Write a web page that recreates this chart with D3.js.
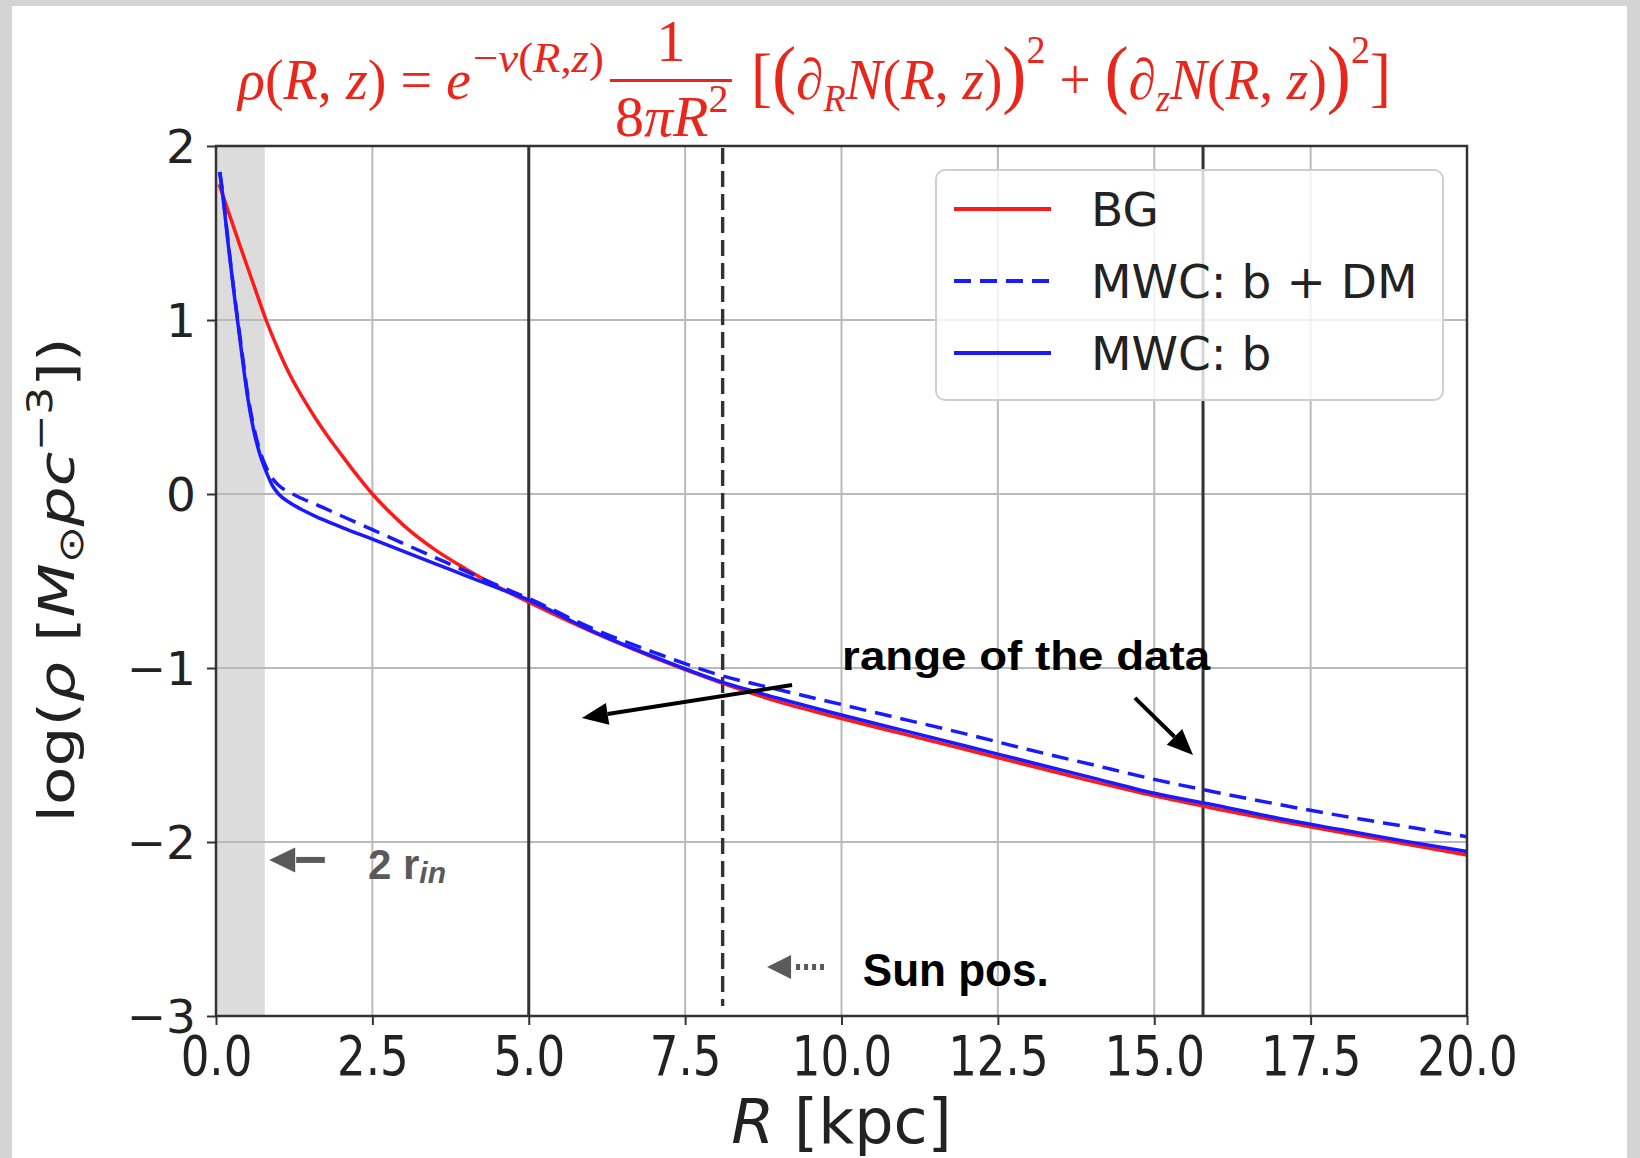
<!DOCTYPE html>
<html lang="en">
<head>
<meta charset="UTF-8">
<title>log rho vs R</title>
<script src="https://d3js.org/d3.v7.min.js"></script>
<style>
  body { margin: 0; background: #d4d4d4; }
</style>
</head>
<body>
<div id="my_chart"></div>
<script>
// BG model
const rBG = [0.05, 0.2, 0.4, 0.6, 0.8, 1.0, 1.2, 1.4, 1.6, 1.8, 2.0, 2.25, 2.5, 2.75, 3.0, 3.5, 4.0, 4.5, 5.0,
             6, 7, 8, 9, 10, 11, 12, 13, 14, 15, 16, 17, 18, 19, 20];
const logRhoBG = [1.78, 1.62, 1.41, 1.205, 1.0, 0.825, 0.672, 0.545, 0.43, 0.325, 0.228, 0.11, 0.0, -0.095, -0.18, -0.32, -0.432, -0.532, -0.622,
                  -0.79, -0.94, -1.075, -1.195, -1.29, -1.38, -1.47, -1.56, -1.65, -1.735, -1.81, -1.88, -1.945, -2.01, -2.075];

// MWC models
const rMWC = [0.06, 0.1, 0.2, 0.3, 0.4, 0.5, 0.6, 0.7, 0.8, 0.9, 1.0, 1.2, 1.4, 1.6, 2.0, 2.5, 3.0, 3.5, 4.0, 4.5, 5.0,
              6, 7, 8, 9, 10, 11, 12, 13, 14, 15, 16, 17, 18, 19, 20];
const logRhoMWCbDM = [1.85, 1.75, 1.43, 1.13, 0.86, 0.59, 0.39, 0.25, 0.155, 0.09, 0.05, 0.005, -0.03, -0.06, -0.125, -0.205, -0.285, -0.365, -0.445, -0.525, -0.60,
                      -0.77, -0.91, -1.035, -1.125, -1.21, -1.295, -1.38, -1.47, -1.555, -1.64, -1.715, -1.785, -1.85, -1.91, -1.97];
const logRhoMWCb = [1.85, 1.74, 1.42, 1.12, 0.84, 0.57, 0.37, 0.23, 0.13, 0.05, 0.0, -0.055, -0.095, -0.13, -0.19, -0.26, -0.33, -0.40, -0.47, -0.54, -0.61,
                    -0.785, -0.935, -1.07, -1.175, -1.27, -1.36, -1.45, -1.54, -1.63, -1.72, -1.79, -1.865, -1.93, -1.995, -2.055];

const xTicks = [0, 2.5, 5, 7.5, 10, 12.5, 15, 17.5, 20];
const yTicks = [2, 1, 0, -1, -2, -3];

const rInner2 = 0.78;     // 2 r_in
const rDataMin = 5.0;
const rDataMax = 15.78;
const rSun = 8.1;

const red = '#ff1a1a', blue = '#1a1aff', dark = '#333333', annGray = '#5a5a5a';

const margin = {top: 146, right: 173, bottom: 142, left: 216},
    width = 1640 - margin.left - margin.right,
    height = 1158 - margin.top - margin.bottom;

const svg = d3.select('#my_chart')
    .append('svg')
        .attr('width', 1640)
        .attr('height', 1158);

// frame
svg.append('rect').attr('width', 1640).attr('height', 1158).attr('fill', '#d4d4d4');
svg.append('rect').attr('x', 12).attr('y', 6).attr('width', 1615).attr('height', 1152).attr('fill', '#fff');

const g = svg.append('g')
    .attr('transform', `translate(${margin.left}, ${margin.top})`);

const x = d3.scaleLinear().domain([0, 20]).range([0, width]);
const y = d3.scaleLinear().domain([-3, 2]).range([height, 0]);

// shaded inner region
g.append('rect')
    .attr('x', x(0)).attr('y', 0)
    .attr('width', x(rInner2) - x(0)).attr('height', height)
    .attr('fill', '#dcdcdc');

// grid
g.selectAll('.gx').data(xTicks).join('line')
    .attr('x1', d => x(d)).attr('x2', d => x(d))
    .attr('y1', 0).attr('y2', height)
    .attr('stroke', '#bababa').attr('stroke-width', 2);
g.selectAll('.gy').data(yTicks).join('line')
    .attr('x1', 0).attr('x2', width)
    .attr('y1', d => y(d)).attr('y2', d => y(d))
    .attr('stroke', '#bababa').attr('stroke-width', 2);

// vertical markers
[rDataMin, rDataMax].forEach(r => {
    g.append('line')
        .attr('x1', x(r)).attr('x2', x(r)).attr('y1', 0).attr('y2', height)
        .attr('stroke', dark).attr('stroke-width', 3);
});
g.append('line')
    .attr('x1', x(rSun)).attr('x2', x(rSun)).attr('y1', 2).attr('y2', height - 10)
    .attr('stroke', dark).attr('stroke-width', 3.4)
    .attr('stroke-dasharray', '16,7');

// curves
const line = d3.line().x(d => x(d[0])).y(d => y(d[1])).curve(d3.curveMonotoneX);

g.append('path')
    .datum(rBG.map((r, i) => [r, logRhoBG[i]]))
    .attr('d', line).attr('fill', 'none')
    .attr('stroke', red).attr('stroke-width', 3.5);
g.append('path')
    .datum(rMWC.map((r, i) => [r, logRhoMWCbDM[i]]))
    .attr('d', line).attr('fill', 'none')
    .attr('stroke', blue).attr('stroke-width', 3.5)
    .attr('stroke-dasharray', '17,9');
g.append('path')
    .datum(rMWC.map((r, i) => [r, logRhoMWCb[i]]))
    .attr('d', line).attr('fill', 'none')
    .attr('stroke', blue).attr('stroke-width', 3.5);

// axes
const gx = g.append('g')
    .attr('transform', `translate(0, ${height})`)
    .call(d3.axisBottom(x).tickValues(xTicks).tickFormat(d3.format('.1f')).tickSize(9));
gx.select('.domain').remove();
gx.selectAll('line').attr('stroke', dark).attr('stroke-width', 2);
gx.selectAll('text')
    .attr('y', 59).attr('dy', 0)
    .attr('transform', 'scale(0.82,1)')
    .attr('fill', '#222')
    .style('font-family', '"DejaVu Sans", sans-serif')
    .style('font-size', '55px');

const gy = g.append('g')
    .call(d3.axisLeft(y).tickValues(yTicks).tickFormat(d => d < 0 ? '\u2212' + Math.abs(d) : d).tickSize(9));
gy.select('.domain').remove();
gy.selectAll('line').attr('stroke', dark).attr('stroke-width', 2);
gy.selectAll('text')
    .attr('x', -20).attr('dy', '0.36em')
    .attr('fill', '#222')
    .style('font-family', '"DejaVu Sans", sans-serif')
    .style('font-size', '47px');

// spines
g.append('rect')
    .attr('width', width).attr('height', height)
    .attr('fill', 'none').attr('stroke', dark).attr('stroke-width', 2.5);

// axis labels
const xl = svg.append('text')
    .attr('x', margin.left + width / 2).attr('y', 1143)
    .attr('text-anchor', 'middle')
    .attr('fill', '#222')
    .style('font-family', '"DejaVu Sans", sans-serif')
    .style('font-size', '62px');
xl.append('tspan').attr('font-style', 'italic').text('R');
xl.append('tspan').text(' [kpc]');

const yl = svg.append('text')
    .attr('transform', 'translate(74, 580) rotate(-90)')
    .attr('text-anchor', 'middle')
    .attr('fill', '#222')
    .attr('textLength', 485).attr('lengthAdjust', 'spacingAndGlyphs')
    .style('font-family', '"DejaVu Sans", sans-serif')
    .style('font-size', '50px');
yl.append('tspan').text('log(');
yl.append('tspan').attr('font-style', 'italic').text('ρ');
yl.append('tspan').text(' [');
yl.append('tspan').attr('font-style', 'italic').text('M');
yl.append('tspan').attr('font-size', 35).attr('dy', 9).text('⊙');
yl.append('tspan').attr('font-style', 'italic').attr('dy', -9).text('pc');
yl.append('tspan').attr('font-size', 35).attr('dy', -22).text('\u22123');
yl.append('tspan').attr('dy', 22).text('])');

// legend
const legendItems = ['BG', 'MWC: b + DM', 'MWC: b'];
const legendStyle = [{c: red, dash: null}, {c: blue, dash: '17,9'}, {c: blue, dash: null}];
const lg = g.append('g').attr('transform', 'translate(720, 24)');
lg.append('rect')
    .attr('width', 507).attr('height', 230).attr('rx', 9)
    .attr('fill', '#fff').attr('fill-opacity', 0.8)
    .attr('stroke', '#cfcfcf').attr('stroke-width', 2);
legendItems.forEach((name, i) => {
    const yy = 39 + i * 72;
    lg.append('line')
        .attr('x1', 18).attr('x2', 115).attr('y1', yy).attr('y2', yy)
        .attr('stroke', legendStyle[i].c).attr('stroke-width', 4)
        .attr('stroke-dasharray', legendStyle[i].dash);
    lg.append('text')
        .attr('x', 155).attr('y', yy + 17)
        .attr('fill', '#222')
        .style('font-family', '"DejaVu Sans", sans-serif')
        .style('font-size', '47px')
        .text(name);
});

// annotations
function arrowHead(sel, tip, from, len, wid, color) {
    const dx = tip[0] - from[0], dy = tip[1] - from[1];
    const L = Math.hypot(dx, dy), ux = dx / L, uy = dy / L;
    const bx = tip[0] - ux * len, by = tip[1] - uy * len;
    const px = -uy * wid / 2, py = ux * wid / 2;
    sel.append('polygon')
        .attr('points', `${tip[0]},${tip[1]} ${bx + px},${by + py} ${bx - px},${by - py}`)
        .attr('fill', color);
    return [bx, by];
}

const a1from = [x(9.21), y(-1.098)], a1tip = [x(5.85), y(-1.287)];
const a1base = arrowHead(g, a1tip, a1from, 26, 22, '#000');
g.append('line').attr('x1', a1from[0]).attr('y1', a1from[1]).attr('x2', a1base[0]).attr('y2', a1base[1])
    .attr('stroke', '#000').attr('stroke-width', 4);

const a2from = [x(14.69), y(-1.172)], a2tip = [x(15.62), y(-1.50)];
const a2base = arrowHead(g, a2tip, a2from, 26, 22, '#000');
g.append('line').attr('x1', a2from[0]).attr('y1', a2from[1]).attr('x2', a2base[0]).attr('y2', a2base[1])
    .attr('stroke', '#000').attr('stroke-width', 4);

g.append('text')
    .attr('x', x(10.01)).attr('y', y(-1.011))
    .attr('textLength', 368).attr('lengthAdjust', 'spacingAndGlyphs')
    .attr('fill', '#000')
    .style('font-family', '"Liberation Sans", Arial, sans-serif')
    .style('font-weight', 'bold')
    .style('font-size', '41px')
    .text('range of the data');

// 2 r_in
const rfrom = [x(1.74), y(-2.103)], rtip = [x(0.85), y(-2.103)];
const rbase = arrowHead(g, rtip, rfrom, 26, 25, annGray);
g.append('line').attr('x1', rfrom[0]).attr('y1', rfrom[1]).attr('x2', rbase[0] + 1).attr('y2', rbase[1])
    .attr('stroke', annGray).attr('stroke-width', 6);
const rt = g.append('text')
    .attr('x', x(2.43)).attr('y', y(-2.213))
    .attr('fill', annGray)
    .style('font-family', '"Liberation Sans", Arial, sans-serif')
    .style('font-weight', 'bold')
    .style('font-size', '42px');
rt.append('tspan').text('2 r');
rt.append('tspan').attr('font-style', 'italic').attr('font-size', 30).attr('dy', 4).text('in');

// Sun pos.
const sfrom = [x(9.72), y(-2.718)], stip = [x(8.81), y(-2.718)];
const sbase = arrowHead(g, stip, sfrom, 24, 24, annGray);
g.append('line').attr('x1', sbase[0] + 5).attr('y1', sfrom[1]).attr('x2', sfrom[0]).attr('y2', sfrom[1])
    .attr('stroke', annGray).attr('stroke-width', 6).attr('stroke-dasharray', '4,4');
g.append('text')
    .attr('x', x(10.34)).attr('y', y(-2.828))
    .attr('textLength', 186).attr('lengthAdjust', 'spacingAndGlyphs')
    .attr('fill', '#000')
    .style('font-family', '"Liberation Sans", Arial, sans-serif')
    .style('font-weight', 'bold')
    .style('font-size', '46px')
    .text('Sun pos.');

// formula title
const fRed = '#e8261c';
const ff = svg.append('g').attr('fill', fRed)
    .style('font-family', '"Liberation Serif", "DejaVu Serif", serif');
function runs(t, list) {
    list.forEach(r => {
        const s = t.append('tspan').text(r.t);
        if (r.i) s.attr('font-style', 'italic');
        if (r.s) s.attr('font-size', r.s);
        if (r.dy) s.attr('dy', r.dy);
    });
    return t;
}
const p1 = ff.append('text').attr('x', 238).attr('y', 99).attr('font-size', 58)
    .attr('textLength', 233).attr('lengthAdjust', 'spacingAndGlyphs');
runs(p1, [{t: 'ρ', i: 1}, {t: '('}, {t: 'R', i: 1}, {t: ', '}, {t: 'z', i: 1}, {t: ')'}, {t: ' = '}, {t: 'e', i: 1}]);

const p2 = ff.append('text').attr('x', 473).attr('y', 72).attr('font-size', 42)
    .attr('textLength', 131).attr('lengthAdjust', 'spacingAndGlyphs');
runs(p2, [{t: '\u2212'}, {t: 'ν', i: 1}, {t: '('}, {t: 'R', i: 1}, {t: ','}, {t: 'z', i: 1}, {t: ')'}]);

ff.append('text').attr('x', 671).attr('y', 61).attr('font-size', 59)
    .attr('text-anchor', 'middle').text('1');
ff.append('line').attr('x1', 610).attr('x2', 732).attr('y1', 80.5).attr('y2', 80.5)
    .attr('stroke', fRed).attr('stroke-width', 3);
const p3 = ff.append('text').attr('x', 615).attr('y', 136).attr('font-size', 58);
runs(p3, [{t: '8'}, {t: 'π', i: 1}, {t: 'R', i: 1}, {t: '2', s: 40, dy: -24}]);

const p4 = ff.append('text').attr('x', 751).attr('y', 99).attr('font-size', 58)
    .attr('textLength', 640).attr('lengthAdjust', 'spacingAndGlyphs');
runs(p4, [
    {t: '[', s: 66},
    {t: '(', s: 76},
    {t: '∂', i: 1, s: 58},
    {t: 'R', i: 1, s: 38, dy: 12},
    {t: 'N', i: 1, s: 58, dy: -12},
    {t: '('}, {t: 'R', i: 1}, {t: ', '}, {t: 'z', i: 1}, {t: ')'},
    {t: ')', s: 76},
    {t: '2', s: 40, dy: -36},
    {t: ' + ', s: 58, dy: 36},
    {t: '(', s: 76},
    {t: '∂', i: 1, s: 58},
    {t: 'z', i: 1, s: 38, dy: 12},
    {t: 'N', i: 1, s: 58, dy: -12},
    {t: '('}, {t: 'R', i: 1}, {t: ', '}, {t: 'z', i: 1}, {t: ')'},
    {t: ')', s: 76},
    {t: '2', s: 40, dy: -36},
    {t: ']', s: 66, dy: 36}
]);
</script>
</body>
</html>
